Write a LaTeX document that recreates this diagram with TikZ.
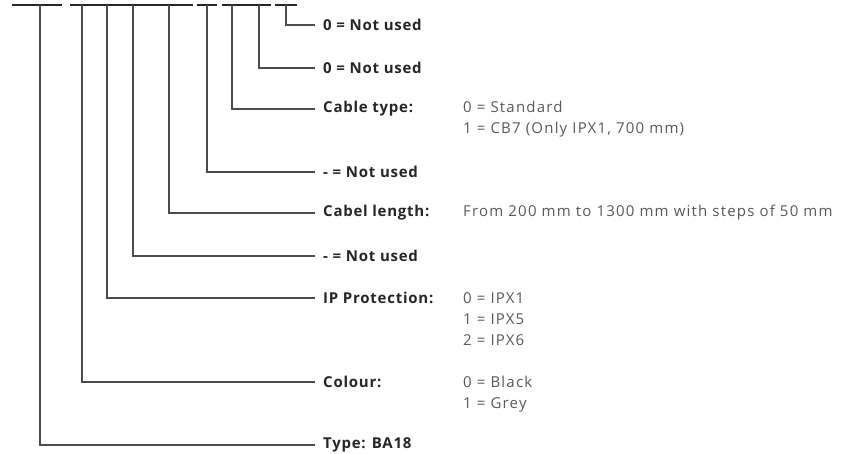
\documentclass[tikz,border=0pt]{standalone}
\usepackage{fontspec}
\setmainfont{Open Sans}
\newfontfamily\fieldfont[LetterSpace=5]{Open Sans}
\newfontfamily\valuefont[LetterSpace=8]{Open Sans}
\usetikzlibrary{positioning}

\begin{document}
\begin{tikzpicture}[x=1pt, y=-1pt,
    field/.style={anchor=west, inner sep=0pt, text=black!85, font=\fieldfont\bfseries\fontsize{15}{18}\selectfont},
    value/.style={anchor=north west, inner sep=0pt, align=left, text=black!65, font=\valuefont\fontsize{15}{21}\selectfont},
    lead/.style={line width=1.6pt, draw=black!70},
    bar/.style={line width=1.8pt, draw=black!85}
]
\useasboundingbox (0,0) rectangle (851,454);

% code positions under the bars
\coordinate (p1) at (40,5);
\coordinate (p2) at (82,5);
\coordinate (p3) at (107,5);
\coordinate (p4) at (133,5);
\coordinate (p5) at (169,5);
\coordinate (p6) at (207,5);
\coordinate (p7) at (232,5);
\coordinate (p8) at (259,5);
\coordinate (p9) at (286,5);

\draw[bar] (12,5) -- (62,5);
\draw[bar] (70,5) -- (193,5);
\draw[bar] (197,5) -- (217,5);
\draw[bar] (222,5) -- (271,5);
\draw[bar] (275,5) -- (297,5);

% field labels
\node[field] (nu4) at (323,25) {0 = Not used};
\node[field] (nu3) at (323,68) {0 = Not used};
\node[field] (cable) at (323,109) {Cable type:};
\node[field] (nu2) at (323,172) {- = Not used};
\node[field] (length) at (323,213) {Cabel length:};
\node[field] (nu1) at (323,256) {- = Not used};
\node[field] (ip) at (323,298) {IP Protection:};
\node[field] (colour) at (323,382) {Colour:};
\node[field] (type) at (323,445) {Type: BA18};

% values
\node[value] (cablev) at (cable.north -| 463,0) {0 = Standard\\1 = CB7 (Only IPX1, 700 mm)};
\node[value] (lengthv) at (length.north -| 463,0) {From 200 mm to 1300 mm with steps of 50 mm};
\node[value] (ipv) at (ip.north -| 463,0) {0 = IPX1\\1 = IPX5\\2 = IPX6};
\node[value] (colourv) at (colour.north -| 463,0) {0 = Black\\1 = Grey};

% leads
\draw[lead] (p1) |- ([xshift=-8pt]type.west);
\draw[lead] (p2) |- ([xshift=-8pt]colour.west);
\draw[lead] (p3) |- ([xshift=-8pt]ip.west);
\draw[lead] (p4) |- ([xshift=-8pt]nu1.west);
\draw[lead] (p5) |- ([xshift=-8pt]length.west);
\draw[lead] (p6) |- ([xshift=-8pt]nu2.west);
\draw[lead] (p7) |- ([xshift=-8pt]cable.west);
\draw[lead] (p8) |- ([xshift=-8pt]nu3.west);
\draw[lead] (p9) |- ([xshift=-8pt]nu4.west);
\end{tikzpicture}
\end{document}
